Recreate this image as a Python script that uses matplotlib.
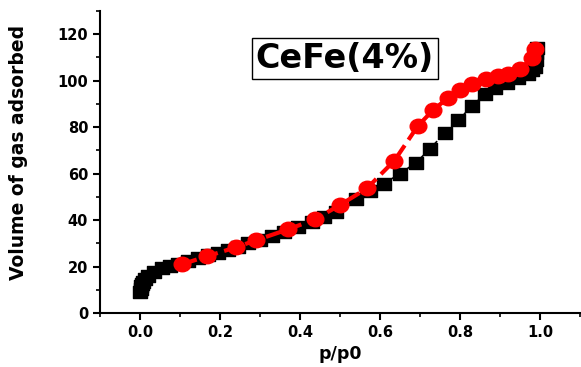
import numpy as np
import matplotlib.pyplot as plt
from matplotlib.ticker import MultipleLocator
from matplotlib.path import Path
from matplotlib.transforms import Affine2D

plt.rcParams['font.family'] = ['DejaVu Sans']
plt.rcParams['font.weight'] = 'bold'

# adsorption branch (black squares)
p_ads = [0.001, 0.002, 0.003, 0.005, 0.008, 0.012, 0.02, 0.035, 0.055, 0.075,
         0.095, 0.12, 0.145, 0.17, 0.195, 0.22, 0.245, 0.27, 0.3, 0.33,
         0.36, 0.395, 0.43, 0.46, 0.49, 0.54, 0.575, 0.61, 0.65, 0.69,
         0.725, 0.7625, 0.795, 0.83, 0.862, 0.8875, 0.917, 0.945, 0.97, 0.98,
         0.9875, 0.99, 0.991, 0.992]
v_ads = [9, 10.5, 11.5, 12.5, 13.5, 14.5, 16, 17.8, 19.2, 20.3,
         21.2, 22.5, 23.7, 24.8, 26, 27.2, 28.6, 30, 31.5, 33,
         34.8, 37, 39.3, 41.3, 43.3, 49, 52.5, 55.7, 60, 64.7,
         70.7, 77.6, 83, 89, 94.3, 97, 99, 101, 103, 104.5,
         106, 109, 112, 114]

# desorption branch (red circles)
p_des = [0.105, 0.1675, 0.24, 0.29, 0.37, 0.4375, 0.50, 0.567, 0.636, 0.695,
         0.733, 0.77, 0.80, 0.83, 0.866, 0.895, 0.92, 0.95, 0.98, 0.9875]
v_des = [21, 24.4, 28.3, 31.3, 36, 40.3, 46.5, 53.6, 65.6, 80.6,
         87.4, 92.6, 96, 98.6, 100.7, 102, 103, 105, 109.7, 113.6]

# the original markers look a bit wider than tall
ellipse = Path.unit_circle().transformed(Affine2D().scale(1.15, 1.0))
wide_sq = Path([(-1.1, -1), (1.1, -1), (1.1, 1), (-1.1, 1), (-1.1, -1)],
               [Path.MOVETO, Path.LINETO, Path.LINETO, Path.LINETO, Path.CLOSEPOLY])

fig = plt.figure(figsize=(5.81, 3.67), dpi=100)
ax = fig.add_axes([100 / 581, 1 - 313 / 367, 480 / 581, 302 / 367])

ax.plot(p_ads, v_ads, color='black', ls='--', lw=1.2, marker=wide_sq, ms=10,
        mec='black', mfc='black')
ax.plot(p_des, v_des, color='red', ls='--', lw=3, marker=ellipse, ms=12,
        mec='red', mfc='red')

ax.set_xlim(-0.1, 1.1)
ax.set_ylim(0, 130)
ax.xaxis.set_major_locator(MultipleLocator(0.2))
ax.xaxis.set_minor_locator(MultipleLocator(0.1))
ax.yaxis.set_minor_locator(MultipleLocator(10))
ax.set_yticks(np.arange(0, 121, 20))

for s in ['top', 'right']:
    ax.spines[s].set_visible(False)
for s in ['left', 'bottom']:
    ax.spines[s].set_linewidth(1.5)

ax.tick_params(which='major', direction='out', length=5, width=1.5, labelsize=10.5)
ax.tick_params(which='minor', direction='out', length=3, width=1.2)
for lab in ax.get_xticklabels() + ax.get_yticklabels():
    lab.set_fontweight('bold')

ax.set_xlabel('p/p0', fontsize=12.5, fontweight='bold', labelpad=4)
ax.set_ylabel('Volume of gas adsorbed', fontsize=13.5, fontweight='bold')
ax.yaxis.set_label_coords(-0.15, 0.533)

ax.text(0.5125, 109.7, 'CeFe(4%)', fontsize=24, fontweight='bold', ha='center', va='center',
        bbox=dict(boxstyle='square,pad=0.12', fc='white', ec='black', lw=1))

fig.savefig('out.png', dpi=100)
